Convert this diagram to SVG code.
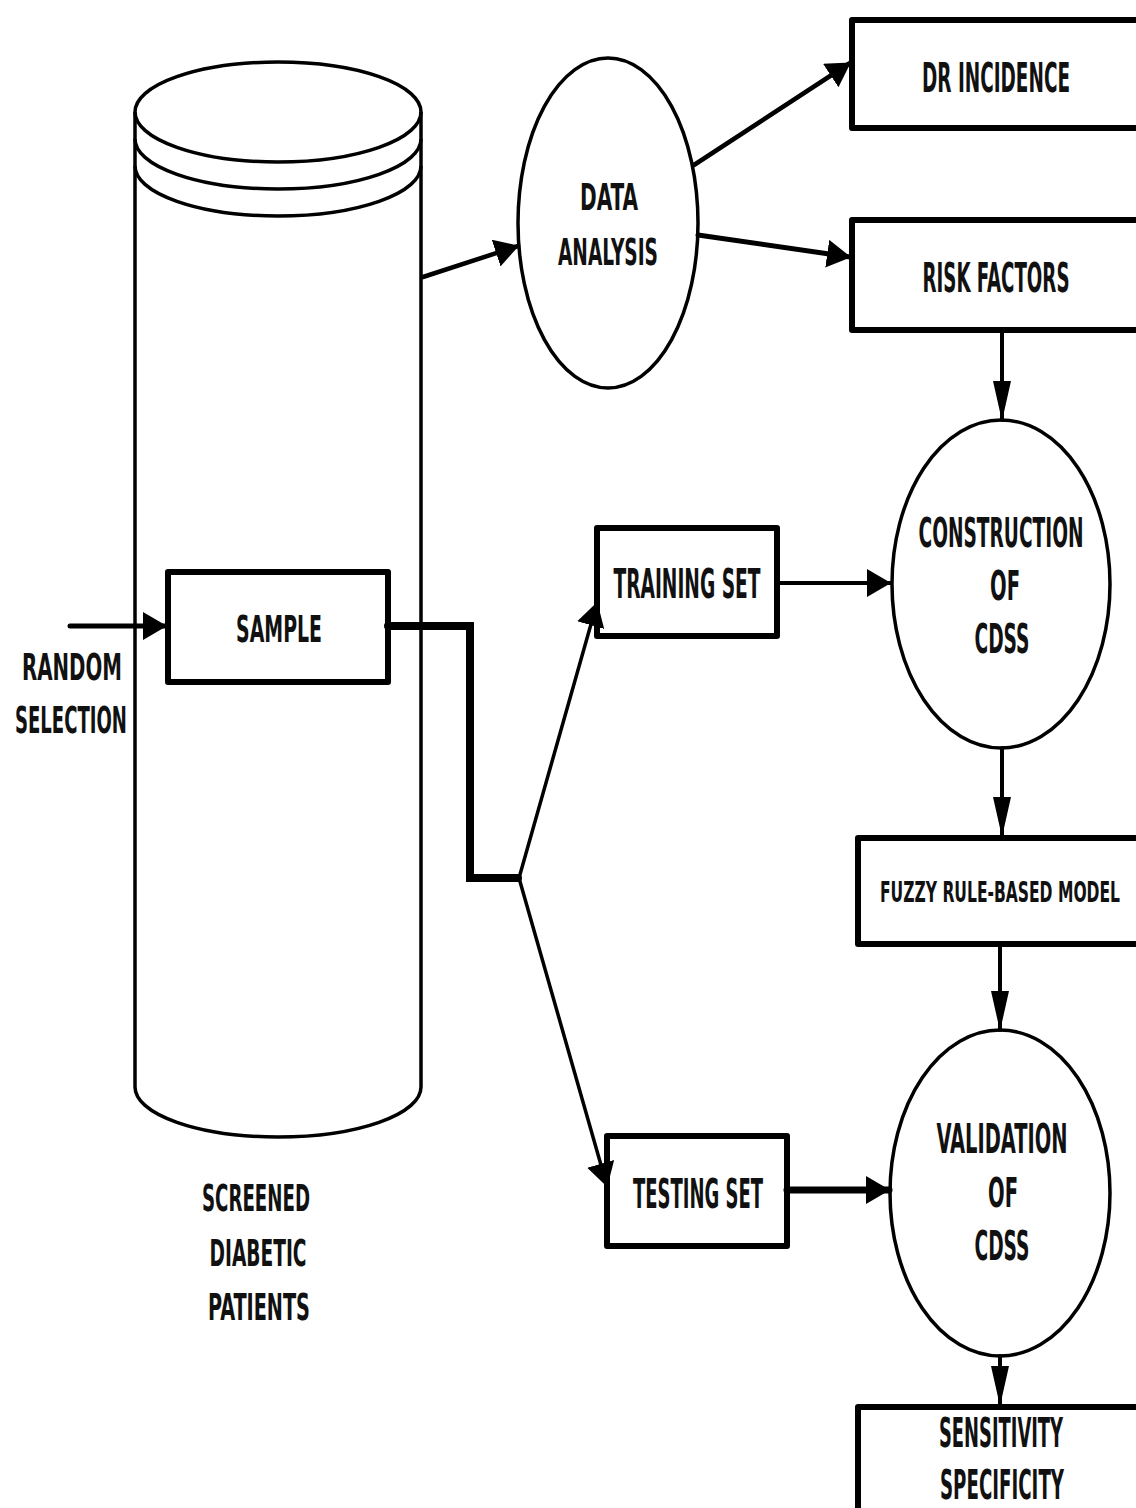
<svg xmlns="http://www.w3.org/2000/svg" width="1136" height="1508" viewBox="0 0 1136 1508">
  <style>
    .bg { fill: #ffffff; }
    .box { fill: #ffffff; stroke: #000; stroke-width: 6; stroke-linejoin: round; }
    .oval { fill: #ffffff; stroke: #000; stroke-width: 3.5; }
    .cyl { fill: none; stroke: #000; stroke-width: 3.5; }
    .cylfill { fill: #ffffff; stroke: none; }
    .lbl { font-family: "Liberation Sans Narrow", "DejaVu Sans Condensed", "Liberation Sans", sans-serif; font-weight: bold; fill: #111; text-anchor: middle; }
    .wire { fill: none; stroke: #000; stroke-linecap: round; stroke-linejoin: miter; }
  </style>
  <defs>
    <marker id="head" viewBox="0 0 24 28" refX="23" refY="14" markerWidth="24" markerHeight="28" orient="auto" markerUnits="userSpaceOnUse">
      <path d="M0,0 L24,14 L0,28 z" fill="#000"/>
    </marker>
    <marker id="tall" viewBox="0 0 40 18" refX="39" refY="9" markerWidth="40" markerHeight="18" orient="auto" markerUnits="userSpaceOnUse">
      <path d="M0,0 L40,9 L0,18 z" fill="#000"/>
    </marker>
  </defs>

  <rect class="bg" x="0" y="0" width="1136" height="1508"/>

  <!-- screened diabetic patients: database cylinder -->
  <g id="patients-db">
    <path class="cylfill" d="M135,112 L135,1087 A143,50 0 0 0 421,1087 L421,112 z"/>
    <path class="cyl" d="M135,112 L135,1087 A143,50 0 0 0 421,1087 L421,112"/>
    <ellipse class="cyl" cx="278" cy="112" rx="143" ry="50"/>
    <path class="cyl" d="M135,139 A143,50 0 0 0 421,139"/>
    <path class="cyl" d="M135,166 A143,50 0 0 0 421,166"/>
    <text class="lbl" x="256" y="1211" font-size="37" textLength="108" lengthAdjust="spacingAndGlyphs">SCREENED</text>
    <text class="lbl" x="258" y="1266" font-size="37" textLength="97" lengthAdjust="spacingAndGlyphs">DIABETIC</text>
    <text class="lbl" x="259" y="1320" font-size="37" textLength="102" lengthAdjust="spacingAndGlyphs">PATIENTS</text>
  </g>

  <g id="random-selection">
    <text class="lbl" x="72" y="680" font-size="38" textLength="100" lengthAdjust="spacingAndGlyphs">RANDOM</text>
    <text class="lbl" x="71" y="733" font-size="38" textLength="112" lengthAdjust="spacingAndGlyphs">SELECTION</text>
  </g>

  <g id="sample">
    <rect class="box" x="168" y="572" width="220" height="110"/>
    <text class="lbl" x="279" y="642" font-size="37" textLength="86" lengthAdjust="spacingAndGlyphs">SAMPLE</text>
  </g>

  <g id="data-analysis">
    <ellipse class="oval" cx="608" cy="223" rx="90" ry="165"/>
    <text class="lbl" x="609" y="210" font-size="38" textLength="58" lengthAdjust="spacingAndGlyphs">DATA</text>
    <text class="lbl" x="608" y="265" font-size="38" textLength="100" lengthAdjust="spacingAndGlyphs">ANALYSIS</text>
  </g>

  <!-- the right-hand boxes run on past the right margin -->
  <g id="dr-incidence">
    <rect class="box" x="852" y="20" width="288" height="108"/>
    <text class="lbl" x="996" y="92" font-size="41" textLength="148" lengthAdjust="spacingAndGlyphs">DR INCIDENCE</text>
  </g>

  <g id="risk-factors">
    <rect class="box" x="852" y="220" width="288" height="110"/>
    <text class="lbl" x="996" y="292" font-size="41" textLength="147" lengthAdjust="spacingAndGlyphs">RISK FACTORS</text>
  </g>

  <g id="construction">
    <ellipse class="oval" cx="1001" cy="584" rx="109" ry="164"/>
    <text class="lbl" x="1001" y="547" font-size="40" textLength="165" lengthAdjust="spacingAndGlyphs">CONSTRUCTION</text>
    <text class="lbl" x="1005" y="600" font-size="40" textLength="30" lengthAdjust="spacingAndGlyphs">OF</text>
    <text class="lbl" x="1002" y="653" font-size="40" textLength="55" lengthAdjust="spacingAndGlyphs">CDSS</text>
  </g>

  <g id="training-set">
    <rect class="box" x="597" y="528" width="180" height="108"/>
    <text class="lbl" x="687" y="598" font-size="40" textLength="147" lengthAdjust="spacingAndGlyphs">TRAINING SET</text>
  </g>

  <g id="fuzzy-model">
    <rect class="box" x="858" y="838" width="282" height="106"/>
    <text class="lbl" x="1000" y="902" font-size="29" textLength="240" lengthAdjust="spacingAndGlyphs">FUZZY RULE-BASED MODEL</text>
  </g>

  <g id="testing-set">
    <rect class="box" x="607" y="1136" width="180" height="110"/>
    <text class="lbl" x="698" y="1208" font-size="40" textLength="130" lengthAdjust="spacingAndGlyphs">TESTING SET</text>
  </g>

  <g id="validation">
    <ellipse class="oval" cx="1000" cy="1193" rx="110" ry="163"/>
    <text class="lbl" x="1002" y="1153" font-size="40" textLength="131" lengthAdjust="spacingAndGlyphs">VALIDATION</text>
    <text class="lbl" x="1003" y="1207" font-size="40" textLength="30" lengthAdjust="spacingAndGlyphs">OF</text>
    <text class="lbl" x="1002" y="1260" font-size="40" textLength="55" lengthAdjust="spacingAndGlyphs">CDSS</text>
  </g>

  <g id="sensitivity-specificity">
    <rect class="box" x="858" y="1407" width="282" height="104"/>
    <text class="lbl" x="1001" y="1447" font-size="40" textLength="124" lengthAdjust="spacingAndGlyphs">SENSITIVITY</text>
    <text class="lbl" x="1002" y="1499" font-size="40" textLength="124" lengthAdjust="spacingAndGlyphs">SPECIFICITY</text>
  </g>

  <!-- connectors -->
  <g id="connectors">
    <line class="wire" x1="70" y1="626" x2="166" y2="626" stroke-width="5" marker-end="url(#head)"/>
    <line class="wire" x1="423" y1="277" x2="518" y2="246" stroke-width="4.5" marker-end="url(#head)"/>
    <line class="wire" x1="694" y1="165" x2="850" y2="63" stroke-width="4.5" marker-end="url(#head)"/>
    <line class="wire" x1="698" y1="235" x2="850" y2="257" stroke-width="5" marker-end="url(#head)"/>
    <line class="wire" x1="1002" y1="333" x2="1002" y2="420" stroke-width="4" marker-end="url(#tall)"/>
    <line class="wire" x1="777" y1="583" x2="890" y2="583" stroke-width="4" marker-end="url(#head)"/>
    <line class="wire" x1="1002" y1="748" x2="1002" y2="836" stroke-width="4" marker-end="url(#tall)"/>
    <line class="wire" x1="1000" y1="947" x2="1000" y2="1030" stroke-width="4" marker-end="url(#tall)"/>
    <line class="wire" x1="1000" y1="1356" x2="1000" y2="1405" stroke-width="4" marker-end="url(#tall)"/>
    <line class="wire" x1="787" y1="1190" x2="889" y2="1190" stroke-width="7" marker-end="url(#head)"/>
    <!-- sample split into training and testing -->
    <path class="wire" d="M388,626 L470,626 L470,878 L518,878" stroke-width="8" stroke-linecap="butt"/>
    <line class="wire" x1="519" y1="878" x2="597" y2="603" stroke-width="3.5" marker-end="url(#head)"/>
    <line class="wire" x1="519" y1="878" x2="607" y2="1186" stroke-width="3.5" marker-end="url(#head)"/>
  </g>
</svg>
